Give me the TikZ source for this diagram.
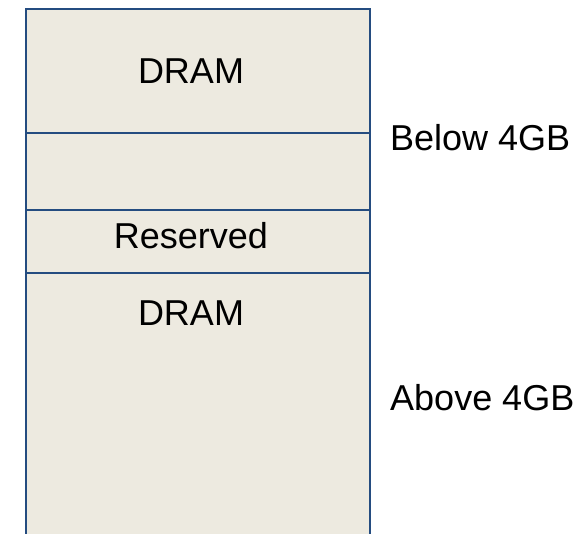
\documentclass[tikz,border=0pt]{standalone}
\usepackage{fontspec}
\setmainfont{Liberation Sans}
\definecolor{memfill}{HTML}{EDEAE0}
\definecolor{memline}{HTML}{244C80}
\tikzset{
  region/.style={fill=memfill, draw=memline, line width=2pt},
  divider/.style={draw=memline, line width=1.3pt},
  lbl/.style={inner sep=0pt, anchor=base, font=\fontsize{36}{40}\selectfont},
  side/.style={inner sep=0pt, anchor=base west, font=\fontsize{36}{40}\selectfont}
}
\begin{document}
\begin{tikzpicture}[x=1pt,y=-1pt]
\useasboundingbox (0,0) rectangle (585,533);
\clip (0,0) rectangle (585,533);
\coordinate (tl) at (26,9);
\coordinate (br) at (370,560);
\path[region] (tl) rectangle (br);
\coordinate (d1l) at (26,133); \coordinate (d1r) at (370,133);
\coordinate (d2l) at (26,210); \coordinate (d2r) at (370,210);
\coordinate (d3l) at (26,273); \coordinate (d3r) at (370,273);
\draw[divider] (d1l) -- (d1r);
\draw[divider] (d2l) -- (d2r);
\draw[divider] (d3l) -- (d3r);
\node[lbl] (dram1) at (191,83) {DRAM};
\node[lbl] (res) at (191,248) {Reserved};
\node[lbl] (dram2) at (191,325) {DRAM};
\node[side] (below) at (390,150) {Below 4GB};
\node[side] (above) at (390,410) {Above 4GB};
\end{tikzpicture}
\end{document}
